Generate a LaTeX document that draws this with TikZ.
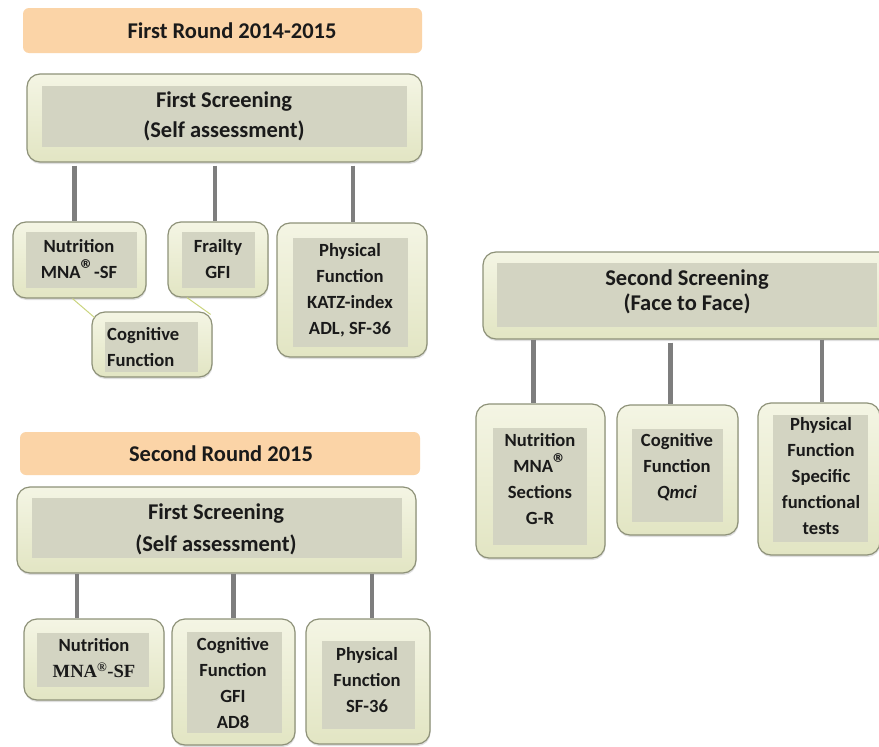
\documentclass[tikz,border=0pt]{standalone}
\usepackage{fontspec}
\setmainfont{Carlito}
\newfontfamily\serifb{Liberation Serif}
\usetikzlibrary{fit,shadows}
\definecolor{txtc}{HTML}{1A1A1A}
\definecolor{bordc}{HTML}{8E9279}
\definecolor{otop}{HTML}{F4F5E4}
\definecolor{obot}{HTML}{E2E5C3}
\definecolor{innc}{HTML}{D3D4C2}
\definecolor{hdrc}{HTML}{FBD4A7}
\definecolor{connc}{HTML}{7E7E7E}
\definecolor{greenc}{HTML}{CBD57F}
\newcommand\regmark{{\fontsize{27}{27}\selectfont ®}}
\tikzset{
  outerbox/.style={draw=bordc, line width=1.2pt, rounded corners=13pt, top color=otop, bottom color=obot, inner sep=0pt,
    drop shadow={shadow xshift=0.5pt, shadow yshift=-2pt, opacity=0.25}},
  innerbox/.style={fill=innc, draw=none, inner sep=0pt},
  hdrbox/.style={fill=hdrc, draw=none, rounded corners=6pt, inner sep=0pt},
  lbl/.style={font=\bfseries\fontsize{18.6}{26}\selectfont, align=center, text=txtc, inner sep=0pt},
  biglbl/.style={font=\bfseries\fontsize{22.5}{30}\selectfont, align=center, text=txtc, inner sep=0pt},
  conn/.style={draw=connc, line width=4.5pt},
  thinconn/.style={draw=greenc, line width=1pt}
}
\begin{document}
\begin{tikzpicture}[x=1pt,y=-1pt]
\useasboundingbox (0,0) rectangle (879,747);
\fill[white] (0,0) rectangle (879,747);
\clip (0,0) rectangle (879,747);

% ---------- First round ----------
\node[hdrbox, fit={(23,8) (422,53)}] (hdr1) {};
\node[biglbl] (hdr1t) at (232,31) {First Round 2014-2015};

\node[outerbox, fit={(27,74) (422,162)}] (fs1) {};
\node[innerbox, fit={(42,86) (407,147)}] (fs1i) {};
\node[biglbl] (fs1t) at (224,116) {First Screening\\(Self assessment)};

\node[outerbox, fit={(13,222) (146,298)}] (nut1) {};
\node[innerbox, fit={(26,232) (137,288)}] (nut1i) {};
\node[lbl] (nut1t) at (79,259) {Nutrition\\MNA\regmark-SF};

\node[outerbox, fit={(168,222) (268,297)}] (fra1) {};
\node[innerbox, fit={(182,232) (255,288)}] (fra1i) {};
\node[lbl] (fra1t) at (218,259) {Frailty\\GFI};

\node[outerbox, fit={(277,223) (427,357)}] (phy1) {};
\node[innerbox, fit={(293,238) (408,347)}] (phy1i) {};
\node[lbl] (phy1t) at (350,290) {Physical\\Function\\KATZ-index\\ADL, SF-36};

\node[outerbox, fit={(92,312) (212,377)}] (cog1) {};
\node[innerbox, fit={(105,322) (198,372)}] (cog1i) {};
\node[lbl, align=left, anchor=west] (cog1t) at (107,347) {Cognitive\\Function};

\draw[conn, shorten <=3pt] ([xshift=-5pt]nut1.north |- fs1.south) -- ([xshift=-5pt]nut1.north);
\draw[conn, shorten <=3pt] ([xshift=-3pt]fra1.north |- fs1.south) -- ([xshift=-3pt]fra1.north);
\draw[conn, shorten <=3pt] ([xshift=1pt]phy1.north |- fs1.south) -- ([xshift=1pt]phy1.north);
\draw[thinconn] ([xshift=-7pt]nut1.south) -- ([xshift=3pt,yshift=-6pt]cog1.north west);
\draw[thinconn] ([xshift=-31pt]fra1.south) -- ([xshift=-2pt,yshift=-3pt]cog1.north east);

% ---------- Second screening ----------
\node[outerbox, fit={(483,252) (892,339)}] (ss) {};
\node[innerbox, fit={(497,263) (877,327)}] (ssi) {};
\node[biglbl, font=\bfseries\fontsize{22.5}{25}\selectfont] (sst) at (687,292) {Second Screening\\(Face to Face)};

\node[outerbox, fit={(476,404) (605,558)}] (nut2) {};
\node[innerbox, fit={(493,428) (587,545)}] (nut2i) {};
\node[lbl] (nut2t) at (540,479) {Nutrition\\MNA\regmark\\Sections\\G-R};

\node[outerbox, fit={(617,405) (738,535)}] (cog2) {};
\node[innerbox, fit={(632,429) (723,522)}] (cog2i) {};
\node[lbl] (cog2t) at (677,467) {Cognitive\\Function\\\textit{Qmci}};

\node[outerbox, fit={(758,403) (880,555)}] (phy2) {};
\node[innerbox, fit={(773,415) (868,542)}] (phy2i) {};
\node[lbl] (phy2t) at (821,476) {Physical\\Function\\Specific\\functional\\tests};

\draw[conn] ([xshift=-7pt]nut2.north |- ss.south) -- ([xshift=-7pt]nut2.north);
\draw[conn, shorten <=3pt] ([xshift=-7pt]cog2.north |- ss.south) -- ([xshift=-7pt]cog2.north);
\draw[conn] ([xshift=3pt]phy2.north |- ss.south) -- ([xshift=3pt]phy2.north);

% ---------- Second round ----------
\node[hdrbox, fit={(20,432) (420,475)}] (hdr2) {};
\node[biglbl] (hdr2t) at (221,454) {Second Round 2015};

\node[outerbox, fit={(17,487) (416,573)}] (fs2) {};
\node[innerbox, fit={(32,498) (402,558)}] (fs2i) {};
\node[biglbl, font=\bfseries\fontsize{22.5}{32}\selectfont] (fs2t) at (216,529) {First Screening\\(Self assessment)};

\node[outerbox, fit={(24,619) (164,700)}] (nut3) {};
\node[innerbox, fit={(37,633) (149,687)}] (nut3i) {};
\node[lbl] (nut3t) at (94,658) {Nutrition\\{\serifb MNA\textsuperscript{®}-SF}};

\node[outerbox, fit={(172,619) (295,745)}] (cog3) {};
\node[innerbox, fit={(187,632) (282,733)}] (cog3i) {};
\node[lbl] (cog3t) at (233,683) {Cognitive\\Function\\GFI\\AD8};

\node[outerbox, fit={(306,619) (430,744)}] (phy3) {};
\node[innerbox, fit={(322,641) (415,729)}] (phy3i) {};
\node[lbl] (phy3t) at (367,680) {Physical\\Function\\SF-36};

\draw[conn] ([xshift=-17pt]nut3.north |- fs2.south) -- ([xshift=-17pt]nut3.north);
\draw[conn] (cog3.north |- fs2.south) -- (cog3.north);
\draw[conn] ([xshift=4pt]phy3.north |- fs2.south) -- ([xshift=4pt]phy3.north);
\end{tikzpicture}
\end{document}
